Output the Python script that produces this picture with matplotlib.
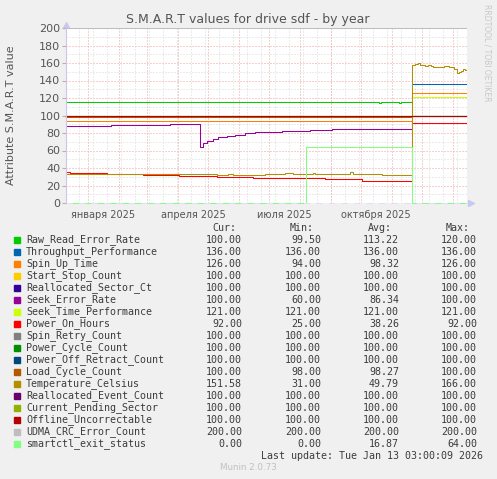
import numpy as np
import matplotlib
matplotlib.use('Agg')
import matplotlib.pyplot as plt
from matplotlib.patches import Rectangle

### Data (step values, change dates)

START = '2024-12-10'
SWAP = '2025-11-21'
END = '2026-01-14'

names = ['Raw_Read_Error_Rate', 'Throughput_Performance', 'Spin_Up_Time',
         'Start_Stop_Count', 'Reallocated_Sector_Ct', 'Seek_Error_Rate',
         'Seek_Time_Performance', 'Power_On_Hours', 'Spin_Retry_Count',
         'Power_Cycle_Count', 'Power_Off_Retract_Count', 'Load_Cycle_Count',
         'Temperature_Celsius', 'Reallocated_Event_Count',
         'Current_Pending_Sector', 'Offline_Uncorrectable',
         'UDMA_CRC_Error_Count', 'smartctl_exit_status']

colors = ['#00CC00', '#0066B3', '#FF8000', '#FFCC00', '#330099', '#990099',
          '#CCFF00', '#FF0000', '#808080', '#008F00', '#00487D', '#B35A00',
          '#B38F00', '#6B006B', '#8FB300', '#B30000', '#BEBEBE', '#80FF80']

cur_vals = [100.00, 136.00, 126.00, 100.00, 100.00, 100.00, 121.00, 92.00,
            100.00, 100.00, 100.00, 100.00, 151.58, 100.00, 100.00, 100.00,
            200.00, 0.00]
min_vals = [99.50, 136.00, 94.00, 100.00, 100.00, 60.00, 121.00, 25.00,
            100.00, 100.00, 100.00, 98.00, 31.00, 100.00, 100.00, 100.00,
            200.00, 0.00]
avg_vals = [113.22, 136.00, 98.32, 100.00, 100.00, 86.34, 121.00, 38.26,
            100.00, 100.00, 100.00, 98.27, 49.79, 100.00, 100.00, 100.00,
            200.00, 16.87]
max_vals = [120.00, 136.00, 126.00, 100.00, 100.00, 100.00, 121.00, 92.00,
            100.00, 100.00, 100.00, 100.00, 166.00, 100.00, 100.00, 100.00,
            200.00, 64.00]

raw_read_dates = [START, '2025-10-19', '2025-10-21', '2025-11-08', '2025-11-10', SWAP]
raw_read_vals = [115, 114, 115, 114, 115, 100]

throughput_dates = [START, SWAP]
throughput_vals = [np.nan, 136]

spin_up_dates = [START, SWAP]
spin_up_vals = [94, 126]

seek_err_dates = [START, '2025-01-24', '2025-03-24', '2025-04-23', '2025-04-26',
                  '2025-04-30', '2025-05-06', '2025-05-11', '2025-05-20',
                  '2025-05-28', '2025-06-07', '2025-06-17', '2025-07-14',
                  '2025-08-11', '2025-09-02', SWAP]
seek_err_vals = [88, 89, 90, 64, 69, 71, 73, 75, 76.5, 78, 80, 81, 82, 83.4, 84.6, 100]

seek_time_dates = [START, SWAP]
seek_time_vals = [np.nan, 121]

power_on_dates = [START, '2024-12-14', '2025-01-20', '2025-02-25', '2025-04-02',
                  '2025-05-10', '2025-06-15', '2025-08-26', '2025-10-02',
                  '2025-11-08', SWAP]
power_on_vals = [35, 34, 33, 32, 31, 30, 28.5, 27, 25.5, 25, 92]

load_cycle_dates = [START, SWAP]
load_cycle_vals = [98, 100]

temp_dates = [START, '2025-05-10', '2025-05-21', '2025-05-26', '2025-06-27',
              '2025-07-17', '2025-07-25', '2025-08-14', '2025-08-16',
              '2025-09-20', '2025-09-23', '2025-10-22', SWAP, '2025-11-24',
              '2025-11-27', '2025-11-29', '2025-12-01', '2025-12-04',
              '2025-12-07', '2025-12-10', '2025-12-12', '2025-12-15',
              '2025-12-19', '2025-12-23', '2025-12-28', '2025-12-31',
              '2026-01-02', '2026-01-05', '2026-01-07', '2026-01-09',
              '2026-01-11', '2026-01-13']
temp_vals = [33, 32, 33, 32, 33, 34, 33, 34, 33, 35, 33, 32, 158, 159,
             160, 158, 157.5, 156.5, 158, 157, 155, 156, 155.5, 156.5, 155,
             156, 153, 149, 150, 151, 153, 151.5]

smartctl_dates = [START, '2025-08-07', SWAP]
smartctl_vals = [0, 64, 0]

flat_100_dates = [START]
flat_100_vals = [100]
udma_dates = [START]
udma_vals = [200]

series = [
    (raw_read_dates, raw_read_vals),
    (throughput_dates, throughput_vals),
    (spin_up_dates, spin_up_vals),
    (flat_100_dates, flat_100_vals),
    (flat_100_dates, flat_100_vals),
    (seek_err_dates, seek_err_vals),
    (seek_time_dates, seek_time_vals),
    (power_on_dates, power_on_vals),
    (flat_100_dates, flat_100_vals),
    (flat_100_dates, flat_100_vals),
    (flat_100_dates, flat_100_vals),
    (load_cycle_dates, load_cycle_vals),
    (temp_dates, temp_vals),
    (flat_100_dates, flat_100_vals),
    (flat_100_dates, flat_100_vals),
    (flat_100_dates, flat_100_vals),
    (udma_dates, udma_vals),
    (smartctl_dates, smartctl_vals),
]

### Figure (pixel layout of the munin png)

W, H = 497, 479
BG = '#F0F0F0'
TXT = '#555555'
LEG = '#3C3C3C'

fig = plt.figure(figsize=(W / 100, H / 100), dpi=100, facecolor=BG)

lax = fig.add_axes([0, 0, 1, 1])
lax.set_xlim(0, W)
lax.set_ylim(H, 0)
lax.axis('off')

left, right, top, bottom = 66, 467, 28, 203
ax = fig.add_axes([left / W, 1 - bottom / H, (right - left) / W, (bottom - top) / H])
ax.set_facecolor('white')

x0 = np.datetime64('2024-12-10')
x1 = np.datetime64('2026-01-15')
ax.set_xlim(x0, x1)
ax.set_ylim(0, 200)

# grid
for v in range(10, 200, 20):
    ax.axhline(v, color='#D8D8D8', lw=0.72, ls=(0, (1, 2)), zorder=1)
for v in range(20, 201, 20):
    ax.axhline(v, color='#F0A0A0', lw=0.72, ls=(0, (1, 2)), zorder=1)
minor_days = np.arange(np.datetime64('2024-12-23'), x1, np.timedelta64(14, 'D'))
for d in minor_days:
    ax.axvline(d, color='#D8D8D8', lw=0.72, ls=(0, (1, 2)), zorder=1)
month_starts = np.arange(np.datetime64('2025-01'), np.datetime64('2026-02'),
                         np.timedelta64(1, 'M')).astype('datetime64[D]')
for d in month_starts:
    ax.axvline(d, color='#F0A0A0', lw=0.72, ls=(0, (1, 2)), zorder=1)

# data lines
for (dates, vals), col in zip(series, colors):
    xs = np.array(dates + [END], dtype='datetime64[D]')
    ys = np.array(list(vals) + [vals[-1]], dtype=float)
    ax.step(xs, ys, where='post', color=col, lw=0.75, zorder=3, clip_on=False,
            snap=True)

# axes
for s in ['top', 'right', 'bottom']:
    ax.spines[s].set_visible(False)
ax.spines['left'].set_color('#C8C8F0')
ax.spines['left'].set_zorder(5)
ax.axhline(0, color='#E0E0F8', lw=0.75, ls=(0, (6, 6)), zorder=4, clip_on=False)

ax.set_yticks(range(0, 201, 20))
ax.tick_params(axis='y', length=3, color='#E0A0A0', labelsize=8,
               labelcolor=TXT, pad=1)
label_days = np.array(['2025-01-16', '2025-04-16', '2025-07-16', '2025-10-16'],
                      dtype='datetime64[D]')
ax.set_xticks(label_days)
ax.set_xticklabels(['января 2025', 'апреля 2025', 'июля 2025', 'октября 2025'])
ax.tick_params(axis='x', length=0, labelsize=7, labelcolor=TXT, pad=5)

lax.plot([left], [top - 3], marker='^', ms=5, color='#C8C8F0', clip_on=False)
lax.plot([right + 4], [bottom], marker='>', ms=5, color='#C8C8F0', clip_on=False)

# texts
lax.text(248, 19, 'S.M.A.R.T values for drive sdf - by year', ha='center',
         va='center', fontsize=9, color=TXT)
lax.text(11, 115, 'Attribute S.M.A.R.T value', rotation=90, ha='center',
         va='center', fontsize=8, color=TXT)
lax.text(487, 53, 'RRDTOOL / TOBI OETIKER', rotation=270, ha='center',
         va='center', fontsize=5.5, color='#C8C8C8')

# legend table
mono = 'DejaVu Sans Mono'
fs = 7.2
for label, xr in zip(['Cur:', 'Min:', 'Avg:', 'Max:'], [236, 314, 392, 470]):
    lax.text(xr, 228, label, ha='right', va='center', family=mono,
             fontsize=fs, color=LEG)
for i, name in enumerate(names):
    y = 239.7 + 12 * i
    lax.add_patch(Rectangle((14, y - 3), 6, 6, color=colors[i]))
    lax.text(26, y, name, ha='left', va='center', family=mono, fontsize=fs, color=LEG)
    for v, xr in zip([cur_vals[i], min_vals[i], avg_vals[i], max_vals[i]],
                     [242, 321, 399, 477]):
        lax.text(xr, y, f'{v:.2f}', ha='right', va='center', family=mono,
                 fontsize=fs, color=LEG)

lax.text(483, 455.7, 'Last update: Tue Jan 13 03:00:09 2026', ha='right',
         va='center', family=mono, fontsize=fs, color=LEG)
lax.text(248, 468, 'Munin 2.0.73', ha='center', va='center', fontsize=6.3,
         color='#C0C0C0')

fig.savefig('out.png', dpi=100, facecolor=BG)
